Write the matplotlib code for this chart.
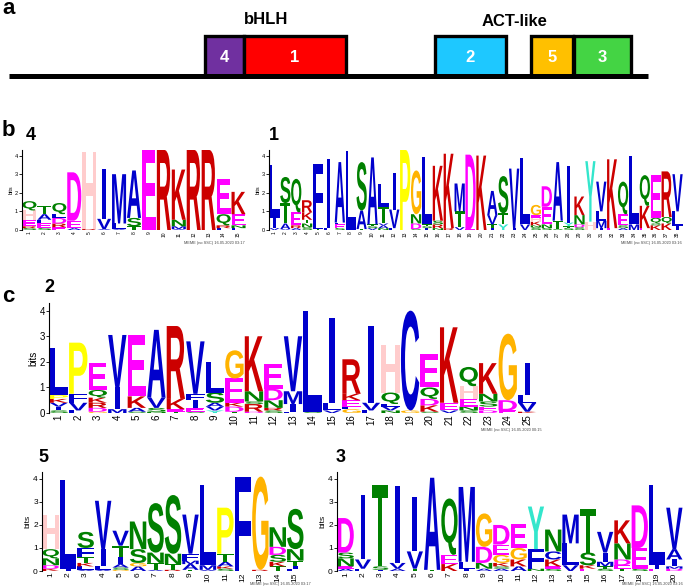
import matplotlib
matplotlib.use('Agg')
from matplotlib import pyplot as plt
from matplotlib.textpath import TextPath
from matplotlib.patches import PathPatch, Rectangle
from matplotlib.font_manager import FontProperties
from matplotlib.transforms import Affine2D

W, H = 685, 586

# esquema de dominios (panel a)
dominios = ['4', '1', '2', '5', '3']
dominio_x = [(205, 244), (244, 346), (435, 506), (531, 573), (574, 631)]
dominio_color = ['#7030A0', '#FF0000', '#1EC8FF', '#FFC000', '#44D444']

# logos: columnas de abajo hacia arriba (letra, bits)
motivo_4 = [
    [('S', 0.1), ('R', 0.1), ('E', 0.35), ('H', 0.5), ('Q', 0.5)],
    [('S', 0.1), ('E', 0.25), ('L', 0.2), ('A', 0.3), ('T', 0.45)],
    [('E', 0.15), ('R', 0.2), ('D', 0.3), ('L', 0.2), ('Q', 0.6)],
    [('A', 0.1), ('E', 0.4), ('D', 2.6)],
    [('R', 0.05), ('H', 4.15)],
    [('A', 0.05), ('V', 0.55), ('I', 2.7)],
    [('A', 0.05), ('L', 0.3), ('M', 2.65)],
    [('T', 0.2), ('S', 0.45), ('A', 2.55)],
    [('E', 4.3)],
    [('R', 4.3)],
    [('A', 0.05), ('M', 0.15), ('N', 0.35), ('K', 2.7)],
    [('R', 4.3)],
    [('R', 4.3)],
    [('L', 0.1), ('R', 0.15), ('Q', 0.6), ('E', 1.9)],
    [('L', 0.1), ('N', 0.15), ('E', 0.6), ('K', 1.2)],
]

motivo_1 = [
    [('V', 0.1), ('I', 0.55), ('L', 2.85)],
    [('V', 0.05), ('A', 0.3), ('T', 1.1), ('S', 1.4)],
    [('A', 0.1), ('R', 0.15), ('E', 0.7), ('Q', 1.8)],
    [('S', 0.15), ('N', 0.2), ('T', 0.2), ('K', 0.4), ('R', 0.65)],
    [('T', 0.05), ('L', 0.2), ('F', 3.3)],
    [('L', 0.1), ('I', 3.7)],
    [('S', 0.1), ('E', 0.2), ('L', 0.1), ('A', 3.25)],
    [('L', 4.25)],
    [('T', 0.05), ('A', 1.0), ('S', 2.6)],
    [('V', 0.1), ('S', 0.1), ('T', 0.1), ('A', 3.6)],
    [('N', 0.1), ('A', 0.15), ('V', 0.1), ('T', 0.9), ('L', 1.2)],
    [('L', 0.1), ('V', 1.0), ('I', 1.95)],
    [('P', 4.3)],
    [('S', 0.05), ('D', 0.3), ('N', 0.5), ('G', 2.35)],
    [('I', 0.1), ('S', 0.1), ('T', 0.1), ('L', 3.6)],
    [('N', 0.1), ('R', 0.2), ('S', 0.2), ('K', 2.95)],
    [('R', 0.1), ('K', 4.0)],
    [('V', 0.15), ('T', 0.85), ('M', 1.5)],
    [('E', 0.05), ('D', 4.0)],
    [('K', 4.0)],
    [('I', 0.1), ('T', 0.2), ('V', 0.5), ('A', 1.3)],
    [('Y', 0.3), ('T', 0.6), ('S', 2.0)],
    [('I', 0.1), ('V', 3.2)],
    [('V', 0.3), ('L', 3.55)],
    [('S', 0.15), ('N', 0.1), ('K', 0.2), ('H', 0.2), ('E', 0.15), ('G', 0.55)],
    [('S', 0.1), ('N', 0.2), ('E', 0.95), ('D', 1.1)],
    [('S', 0.05), ('T', 0.45), ('A', 3.15)],
    [('S', 0.1), ('T', 0.1), ('Y', 0.2), ('I', 3.05)],
    [('S', 0.15), ('D', 0.15), ('N', 0.5), ('K', 1.0)],
    [('H', 0.45), ('Y', 3.25)],
    [('I', 0.1), ('M', 0.4), ('L', 0.5), ('V', 1.6)],
    [('E', 0.1), ('K', 3.7)],
    [('A', 0.1), ('S', 0.15), ('E', 0.6), ('Q', 1.75)],
    [('M', 0.3), ('L', 3.7)],
    [('E', 0.1), ('K', 1.2), ('Q', 1.65)],
    [('K', 0.25), ('S', 0.1), ('Q', 0.3), ('E', 2.3)],
    [('K', 0.35), ('Q', 0.35), ('R', 2.45)],
    [('I', 0.2), ('L', 0.8), ('V', 2.0)],
]

motivo_2 = [
    [('S', 0.1), ('I', 0.15), ('V', 0.15), ('K', 0.15), ('P', 0.15), ('L', 1.85)],
    [('L', 0.1), ('V', 0.3), ('F', 0.35), ('P', 2.0)],
    [('G', 0.05), ('D', 0.15), ('R', 0.2), ('K', 0.2), ('Q', 0.3), ('E', 1.05)],
    [('M', 0.15), ('I', 0.85), ('V', 2.05)],
    [('S', 0.05), ('A', 0.15), ('K', 0.45), ('E', 2.4)],
    [('N', 0.05), ('S', 0.15), ('V', 0.4), ('A', 2.65)],
    [('T', 0.05), ('E', 0.1), ('K', 0.4), ('R', 2.85)],
    [('S', 0.05), ('E', 0.15), ('I', 0.3), ('F', 0.25), ('V', 2.05)],
    [('Y', 0.1), ('V', 0.15), ('A', 0.15), ('S', 0.4), ('L', 1.2)],
    [('T', 0.05), ('D', 0.2), ('K', 0.15), ('E', 0.95), ('G', 1.1)],
    [('D', 0.05), ('R', 0.3), ('S', 0.1), ('N', 0.4), ('K', 2.15)],
    [('S', 0.1), ('R', 0.1), ('N', 0.3), ('D', 0.45), ('E', 0.95)],
    [('L', 0.05), ('I', 0.3), ('M', 0.5), ('V', 2.15)],
    [('S', 0.05), ('L', 3.95)],
    [('V', 0.1), ('L', 0.3), ('I', 3.3)],
    [('G', 0.15), ('L', 0.1), ('E', 0.25), ('K', 0.25), ('R', 1.35)],
    [('L', 0.1), ('V', 0.3), ('I', 3.0)],
    [('N', 0.1), ('V', 0.15), ('L', 0.1), ('Q', 0.45), ('H', 1.85)],
    [('G', 0.1), ('C', 3.9)],
    [('S', 0.05), ('K', 0.25), ('D', 0.25), ('Q', 0.45), ('E', 1.3)],
    [('V', 0.1), ('E', 0.3), ('K', 2.95)],
    [('S', 0.1), ('N', 0.15), ('E', 0.3), ('H', 0.5), ('Q', 0.75)],
    [('D', 0.1), ('E', 0.15), ('S', 0.2), ('N', 0.3), ('K', 1.2)],
    [('E', 0.1), ('D', 0.4), ('G', 2.6)],
    [('K', 0.05), ('V', 0.35), ('L', 0.3), ('I', 1.25)],
]

motivo_5 = [
    [('K', 0.1), ('D', 0.15), ('N', 0.3), ('Q', 0.4), ('H', 1.5)],
    [('I', 0.1), ('L', 3.85)],
    [('A', 0.05), ('L', 0.15), ('K', 0.15), ('T', 0.25), ('F', 0.4), ('S', 0.7)],
    [('A', 0.05), ('L', 0.15), ('I', 0.75), ('V', 2.1)],
    [('G', 0.05), ('S', 0.1), ('A', 0.15), ('I', 0.3), ('T', 0.5), ('V', 0.65)],
    [('A', 0.2), ('G', 0.15), ('S', 0.6), ('N', 1.2)],
    [('A', 0.05), ('T', 0.3), ('N', 0.45), ('S', 2.15)],
    [('R', 0.05), ('T', 0.25), ('N', 0.45), ('S', 2.55)],
    [('T', 0.05), ('A', 0.25), ('M', 0.15), ('F', 0.3), ('V', 1.7)],
    [('A', 0.05), ('M', 0.2), ('L', 3.5)],
    [('S', 0.1), ('K', 0.1), ('A', 0.2), ('T', 0.35), ('P', 2.0)],
    [('L', 0.05), ('F', 4.05)],
    [('R', 0.05), ('G', 4.05)],
    [('T', 0.2), ('K', 0.2), ('S', 0.3), ('D', 0.35), ('N', 0.85)],
    [('L', 0.1), ('I', 0.1), ('T', 0.25), ('N', 0.5), ('S', 1.75)],
]

motivo_3 = [
    [('A', 0.1), ('E', 0.1), ('N', 0.35), ('S', 0.25), ('D', 1.5)],
    [('L', 0.1), ('V', 0.4), ('I', 2.8)],
    [('I', 0.05), ('S', 0.15), ('T', 3.55)],
    [('A', 0.1), ('V', 0.25), ('I', 3.35)],
    [('T', 0.1), ('V', 0.75), ('I', 2.35)],
    [('T', 0.05), ('A', 4.0)],
    [('K', 0.3), ('E', 0.4), ('Q', 2.45)],
    [('I', 0.1), ('L', 0.3), ('M', 3.25)],
    [('A', 0.1), ('N', 0.25), ('D', 0.7), ('G', 1.45)],
    [('A', 0.1), ('S', 0.1), ('K', 0.15), ('G', 0.35), ('E', 0.45), ('D', 0.85)],
    [('A', 0.2), ('K', 0.3), ('G', 0.5), ('E', 1.05)],
    [('N', 0.1), ('F', 0.85), ('Y', 1.85)],
    [('S', 0.1), ('E', 0.1), ('K', 0.3), ('C', 0.35), ('N', 0.95)],
    [('V', 0.25), ('L', 0.95), ('M', 1.25)],
    [('E', 0.1), ('K', 0.15), ('S', 0.55), ('T', 1.9)],
    [('S', 0.1), ('T', 0.1), ('M', 0.2), ('I', 0.4), ('V', 0.9)],
    [('T', 0.1), ('E', 0.15), ('D', 0.25), ('N', 0.7), ('K', 1.0)],
    [('S', 0.1), ('E', 0.9), ('D', 1.85)],
    [('E', 0.1), ('I', 0.15), ('L', 3.5)],
    [('D', 0.1), ('M', 0.1), ('I', 0.3), ('A', 0.45), ('V', 1.8)],
]

colores = {}
for l in 'ACFILMVW':
    colores[l] = '#0000CC'
for l in 'KR':
    colores[l] = '#CC0000'
for l in 'DE':
    colores[l] = '#FF00FF'
for l in 'NQST':
    colores[l] = '#008000'
colores['G'] = '#FFB300'
colores['P'] = '#FFFF00'
colores['H'] = '#FFCCCC'
colores['Y'] = '#33E6CC'

fp = FontProperties(family='Liberation Sans', weight='bold')
glifos = {}


def dibujar_letra(ax, letra, x, y, h):
    if letra not in glifos:
        p = TextPath((0, 0), letra, size=1, prop=fp)
        glifos[letra] = (p, p.get_extents())
    p, bb = glifos[letra]
    w = 0.28 if letra == 'I' else 0.94
    t = (Affine2D().translate(-bb.x0, -bb.y0)
         .scale(w / bb.width, h / bb.height).translate(x - w / 2, y))
    ax.add_patch(PathPatch(t.transform_path(p), fc=colores[letra], ec='none', lw=0))


def logo(motivo, x0, x1, y0, ytop, fs_x, fs_y):
    ax = fig.add_axes([x0 / W, 1 - y0 / H, (x1 - x0) / W, (y0 - ytop) / H])
    n = len(motivo)
    for i, col in enumerate(motivo):
        y = 0
        for letra, h in col:
            dibujar_letra(ax, letra, i + 1, y, h)
            y += h
    ax.set_xlim(0.5, n + 0.5)
    ax.set_ylim(0, 4.3)
    ax.set_xticks(range(1, n + 1))
    ax.set_xticklabels([str(k) for k in range(1, n + 1)], rotation=90, fontsize=fs_x,
                       family='Liberation Sans')
    ax.set_yticks(range(5))
    ax.set_yticklabels([str(k) for k in range(5)], fontsize=fs_y, family='Liberation Sans')
    ax.tick_params(axis='x', length=0, pad=1)
    ax.tick_params(axis='y', length=2, width=0.6, pad=1)
    for s in ['top', 'right', 'bottom']:
        ax.spines[s].set_visible(False)
    ax.spines['left'].set_linewidth(0.8)
    ax.set_ylabel('bits', fontsize=fs_y, family='Liberation Sans', labelpad=1)
    ax.patch.set_alpha(0)
    return ax


fig = plt.figure(figsize=(W / 100, H / 100), dpi=100)

ax0 = fig.add_axes([0, 0, 1, 1])
ax0.set_xlim(0, W)
ax0.set_ylim(H, 0)
ax0.axis('off')

ax0.plot([9, 648], [76, 76], color='black', lw=3.6, solid_capstyle='butt')
for nombre, (xa, xb), c in zip(dominios, dominio_x, dominio_color):
    ax0.add_patch(Rectangle((xa, 36), xb - xa, 40, fc=c, ec='black', lw=2.4))
    ax0.text((xa + xb) / 2, 57, nombre, color='white', fontsize=12, weight='bold',
             ha='center', va='center', family='Liberation Sans')
ax0.text(266, 19, 'bHLH', fontsize=12, weight='bold', ha='center', va='center',
         family='Liberation Sans')
ax0.text(515, 21, 'ACT-like', fontsize=12, weight='bold', ha='center', va='center',
         family='Liberation Sans')

paneles = [('a', 2, 9), ('b', 2, 131), ('c', 2, 297)]
for t, x, y in paneles:
    ax0.text(x, y, t, fontsize=16, weight='bold', ha='left', va='center',
             family='Liberation Sans')
numeros = [('4', 26, 135), ('1', 269, 136), ('2', 44, 288), ('5', 38, 458), ('3', 336, 458)]
for t, x, y in numeros:
    ax0.text(x, y, t, fontsize=13, weight='bold', ha='left', va='center',
             family='Liberation Sans')

meme = [('MEME (no SSC) 16.05.2020 03:17', 245, 243),
        ('MEME (no SSC) 16.05.2020 03:16', 682, 243),
        ('MEME (no SSC) 16.05.2020 00:15', 542, 430),
        ('MEME (no SSC) 16.05.2020 03:17', 311, 584),
        ('MEME (no SSC) 16.05.2020 03:16', 683, 584)]
for t, x, y in meme:
    ax0.text(x, y, t, fontsize=2.8, ha='right', va='center', color='#444444',
             family='Liberation Sans')

logo(motivo_4, 22, 246, 230, 150, 3.5, 4)
logo(motivo_1, 269, 683, 230, 150, 3.5, 4)
logo(motivo_2, 49, 537, 413, 303, 7, 7)
logo(motivo_5, 42, 304, 571, 472, 6, 6)
logo(motivo_3, 337, 683, 571, 472, 6, 6)

fig.savefig('out.png', dpi=100)
